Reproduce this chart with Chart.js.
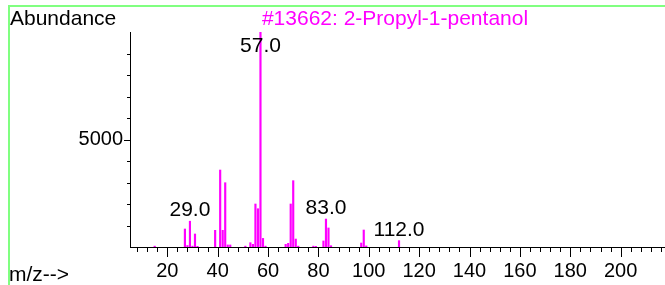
<!DOCTYPE html>
<html>
<head>
<meta charset="utf-8">
<script src="https://cdn.jsdelivr.net/npm/chart.js@4.4.1/dist/chart.umd.min.js"></script>
<style>
  html, body { margin: 0; padding: 0; background: #fff; }
  #wrap { position: relative; width: 665px; height: 285px; overflow: hidden; }
  #frame { position: absolute; left: 8px; top: 5px; width: 670px; height: 290px;
           border-top: 2px solid #80ff80; border-left: 2px solid #80ff80; }
  canvas { position: absolute; left: 0; top: 0; }
</style>
</head>
<body>
<div id="wrap">
  <canvas id="spectrum" width="665" height="285"></canvas>
  <div id="frame"></div>
</div>
<script>
const TITLE = "#13662: 2-Propyl-1-pentanol";

// peaks
const massValues = [15, 27, 28, 29, 30, 31, 32, 39, 41, 42, 43, 44, 45, 51, 53, 54, 55, 56, 57, 58, 59,
                    67, 68, 69, 70, 71, 72, 78, 79, 82, 83, 84, 85, 97, 98, 99, 112];
const abundanceValues = [40, 837, 70, 1200, 40, 605, 30, 775, 3580, 775, 2990, 95, 95, 40, 200, 125, 2000, 1780, 9999, 400, 40,
                         125, 170, 2000, 3085, 370, 40, 40, 30, 280, 1300, 885, 60, 185, 790, 50, 295];
const labelledPeaks = [29, 57, 83, 112];

const xMajorTicks = [20, 40, 60, 80, 100, 120, 140, 160, 180, 200];
const yLabelTicks = [5000];
const X_MIN = 5.2, X_MAX = 217.6;

const FONT = "'Liberation Sans', Arial, sans-serif";
Chart.defaults.font.family = FONT;
Chart.defaults.color = "#000";

const xTickValues = [];
for (let v = 8; v <= 216; v += 4) xTickValues.push(v);

// tick marks, peak labels and axis captions
const decorPlugin = {
  id: "decor",
  afterDraw(chart) {
    const ctx = chart.ctx;
    const xs = chart.scales.x, ys = chart.scales.y;
    const area = chart.chartArea;
    ctx.save();
    ctx.strokeStyle = "#000";
    ctx.lineWidth = 1;
    ctx.beginPath();
    xTickValues.forEach(v => {
      const px = Math.round(xs.getPixelForValue(v)) + 0.5;
      const len = xMajorTicks.includes(v) ? 10 : 5;
      ctx.moveTo(px, area.bottom);
      ctx.lineTo(px, area.bottom + len);
    });
    for (let v = 1000; v < 10000; v += 1000) {
      const py = Math.round(ys.getPixelForValue(v)) + 0.5;
      const len = yLabelTicks.includes(v) ? 6 : 3;
      ctx.moveTo(area.left, py);
      ctx.lineTo(area.left - len, py);
    }
    ctx.stroke();

    ctx.font = "21px " + FONT;
    ctx.fillStyle = "#000";
    ctx.textAlign = "center";
    ctx.textBaseline = "alphabetic";
    labelledPeaks.forEach(m => {
      const i = massValues.indexOf(m);
      const px = xs.getPixelForValue(m);
      const top = ys.getPixelForValue(abundanceValues[i]);
      const y = Math.max(top - 5, area.top + 20);
      ctx.fillText(m.toFixed(1), px, y);
    });

    ctx.textAlign = "left";
    ctx.fillText("Abundance", 10, 25);
    ctx.fillText("m/z-->", 9, 281);
    ctx.fillStyle = "#ff00ff";
    ctx.textAlign = "center";
    ctx.fillText(TITLE, 395, 25);
    ctx.restore();
  }
};

new Chart(document.getElementById("spectrum"), {
  type: "bar",
  data: {
    datasets: [{
      data: massValues.map((m, i) => ({ x: m, y: abundanceValues[i] })),
      backgroundColor: "#ff00ff",
      borderWidth: 0,
      barThickness: 1.5
    }]
  },
  options: {
    responsive: false,
    animation: false,
    layout: { padding: { top: 32, left: 0, right: 0, bottom: 0 } },
    plugins: { legend: { display: false }, tooltip: { enabled: false }, title: { display: false } },
    scales: {
      x: {
        type: "linear",
        offset: false,
        min: X_MIN,
        max: X_MAX,
        grid: { display: false, drawTicks: false },
        border: { display: true, color: "#000", width: 1 },
        afterBuildTicks: s => { s.ticks = xTickValues.map(v => ({ value: v })); },
        afterFit: s => { s.height = 38; s.paddingLeft = 0; s.paddingRight = 0; },
        ticks: {
          autoSkip: false,
          maxRotation: 0,
          padding: 12,
          font: { size: 20 },
          callback: v => xMajorTicks.includes(v) ? String(v) : ""
        }
      },
      y: {
        min: 0,
        max: 10000,
        grid: { display: false, drawTicks: false },
        border: { display: true, color: "#000", width: 1 },
        afterFit: s => { s.width = 130; s.paddingTop = 0; s.paddingBottom = 0; },
        ticks: {
          stepSize: 1000,
          autoSkip: false,
          padding: 7,
          font: { size: 20 },
          callback: v => yLabelTicks.includes(v) ? String(v) : ""
        }
      }
    }
  },
  plugins: [decorPlugin]
});
</script>
</body>
</html>
